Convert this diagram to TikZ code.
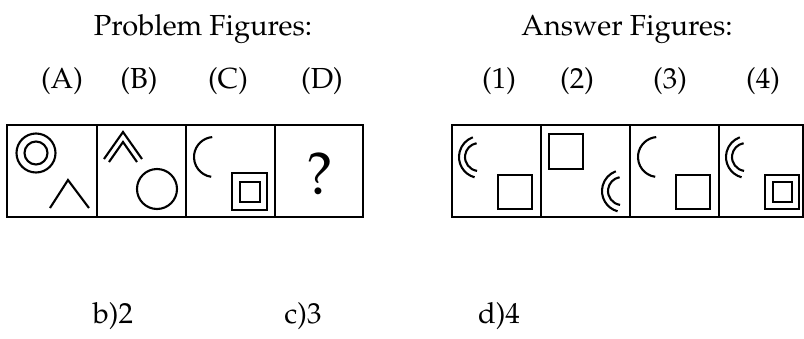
\documentclass[tikz,border=0pt]{standalone}
\usepackage[T1]{fontenc}
\usepackage{mathpazo}
\usepackage{tikz}
\usetikzlibrary{positioning,calc}

\begin{document}
\begin{tikzpicture}[x=1pt, y=-1pt,
    cellbox/.style={line width=2.3pt, black},
    figline/.style={line width=2.1pt, black},
    heading/.style={anchor=base, inner sep=0pt, font=\fontsize{29}{33}\selectfont},
    tag/.style={anchor=base, inner sep=0pt, font=\fontsize{29}{33}\selectfont}]
          \useasboundingbox (0,0) rectangle (804,338);

          % Headings
          \node[heading] (probtitle) at (203,35) {Problem Figures:};
          \node[heading] (anstitle) at (627,35) {Answer Figures:};

          \node[tag] (labA) at (62,88) {(A)};
          \node[tag] (labB) at (139,88) {(B)};
          \node[tag] (labC) at (228,88) {(C)};
          \node[tag] (labD) at (322,88) {(D)};
          \node[tag] (lab1) at (499,88) {(1)};
          \node[tag] (lab2) at (577,88) {(2)};
          \node[tag] (lab3) at (670,88) {(3)};
          \node[tag] (lab4) at (763,88) {(4)};

          % Problem cells
          \draw[cellbox] (7,125) rectangle (363,217);
          \draw[cellbox] (97,125) -- (97,217) (186,125) -- (186,217) (275,125) -- (275,217);

          % Answer cells
          \draw[cellbox] (452,125) rectangle (803,217);
          \draw[cellbox] (541,125) -- (541,217) (630,125) -- (630,217) (719,125) -- (719,217);

          % (A)
          \draw[figline] (36,153) circle[radius=19.5];
          \draw[figline] (36,153) circle[radius=11.5];
          \draw[figline] (50,208) -- (68,180) -- (89,208);

          % (B)
          \draw[figline] (104,159) -- (123,132) -- (142,159);
          \draw[figline] (109,162) -- (123,142) -- (137,162);
          \draw[figline] (157,189) circle[radius=20];

          % (C)
          \draw[figline] ($(214,157)+(98:20)$) arc[start angle=98, end angle=265, radius=20];
          \draw[figline] (232,173) rectangle (267,210);
          \draw[figline] (240,182) rectangle (260,202);

          % (D)
          \node[inner sep=0pt, font=\fontsize{60}{60}\selectfont] (qmark) at (320,174) {?};

          % (1)
          \draw[figline] ($(480,157)+(105:21)$) arc[start angle=105, end angle=250, radius=21];
          \draw[figline] ($(479,157)+(98:14)$) arc[start angle=98, end angle=260, radius=14];
          \draw[figline] (498,175) rectangle (532,209);

          % (2)
          \draw[figline] (549,134) rectangle (583,169);
          \draw[figline] ($(623,191)+(105:21)$) arc[start angle=105, end angle=250, radius=21];
          \draw[figline] ($(622,191)+(98:14)$) arc[start angle=98, end angle=260, radius=14];

          % (3)
          \draw[figline] ($(658,157)+(98:20)$) arc[start angle=98, end angle=265, radius=20];
          \draw[figline] (676,175) rectangle (710,209);

          % (4)
          \draw[figline] ($(747,157)+(105:21)$) arc[start angle=105, end angle=250, radius=21];
          \draw[figline] ($(746,157)+(98:14)$) arc[start angle=98, end angle=260, radius=14];
          \draw[figline] (765,175) rectangle (799,209);
          \draw[figline] (773,182) rectangle (792,202);

          % Options
          \node[tag] (optb) at (113,323) {b)2};
          \node[tag] (optc) at (303,323) {c)3};
          \node[tag] (optd) at (499,323) {d)4};
        \end{tikzpicture}
\end{document}
